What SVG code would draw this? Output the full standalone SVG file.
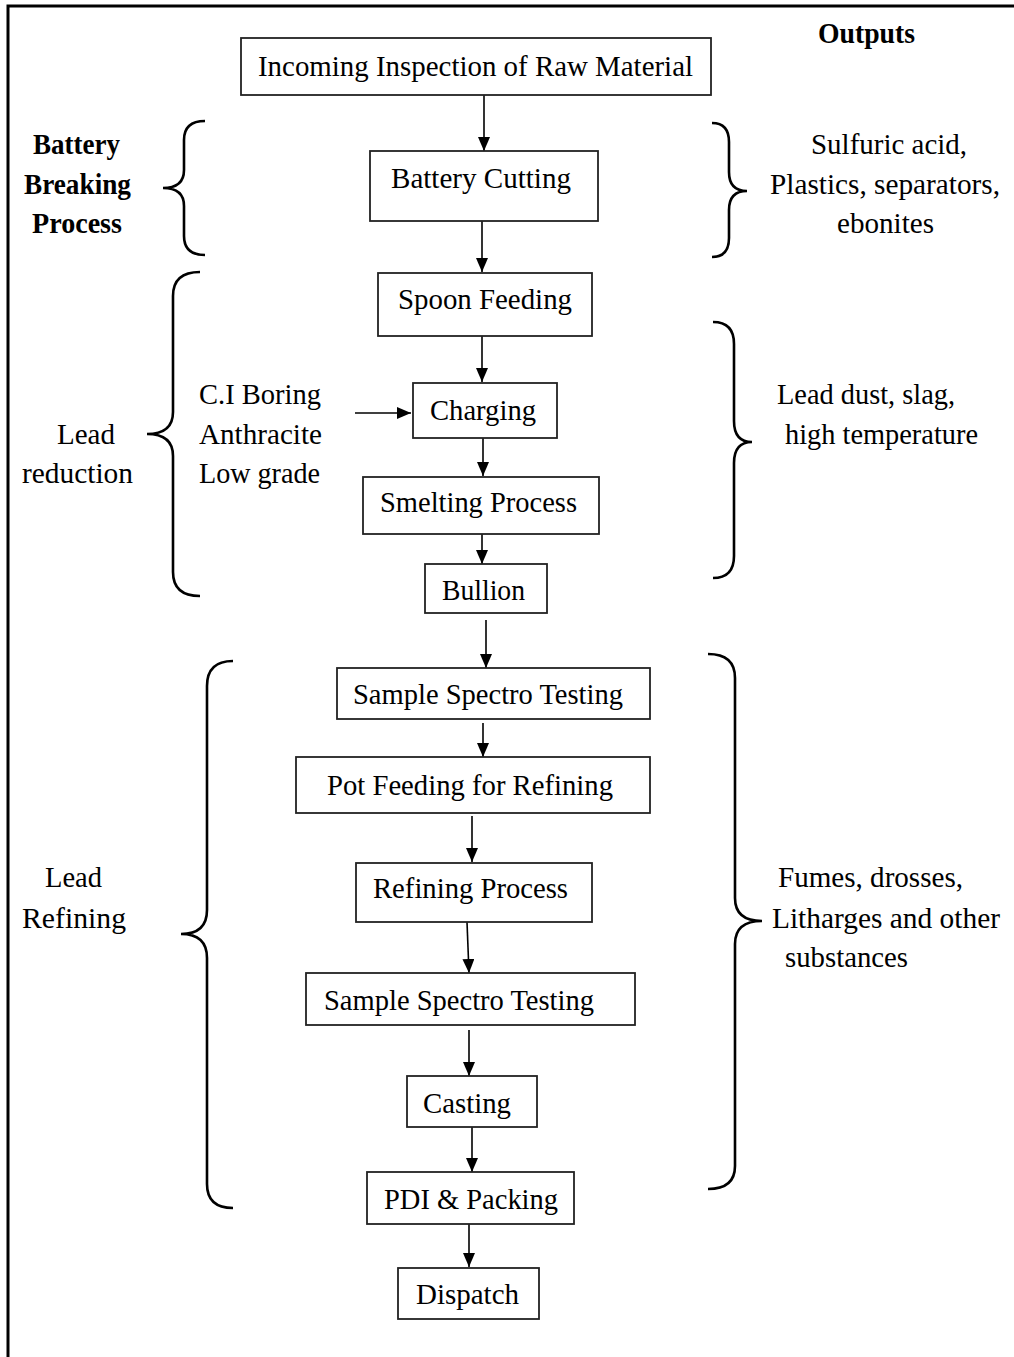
<svg xmlns="http://www.w3.org/2000/svg" width="1014" height="1357" viewBox="0 0 1014 1357">
<style>
.box{fill:#fff;stroke:#222;stroke-width:1.8}
.t{font-family:"Liberation Serif","Times New Roman",serif;font-size:30px;fill:#000}
.b{font-weight:bold;font-size:29px}
.c{stroke:#000;stroke-width:1.6;fill:none}
.br{stroke:#000;stroke-width:2.6;fill:none}
</style>
<defs>
<marker id="ah" markerWidth="14" markerHeight="12" refX="14" refY="6" orient="auto" markerUnits="userSpaceOnUse"><path d="M0,0 L14,6 L0,12 z" fill="#000"/></marker>
</defs>
<rect width="1014" height="1357" fill="#fff"/>
<path d="M8,1357 L8,6 L1014,6" fill="none" stroke="#000" stroke-width="3"/>

<g id="connectors">
<line class="c" x1="484" y1="95" x2="484" y2="151" marker-end="url(#ah)"/>
<line class="c" x1="482" y1="221" x2="482" y2="272" marker-end="url(#ah)"/>
<line class="c" x1="482" y1="336" x2="482" y2="382" marker-end="url(#ah)"/>
<line class="c" x1="355" y1="413" x2="411" y2="413" marker-end="url(#ah)"/>
<line class="c" x1="483" y1="438" x2="483" y2="476" marker-end="url(#ah)"/>
<line class="c" x1="482" y1="534" x2="482" y2="564" marker-end="url(#ah)"/>
<line class="c" x1="486" y1="620" x2="486" y2="668" marker-end="url(#ah)"/>
<line class="c" x1="483" y1="723" x2="483" y2="757" marker-end="url(#ah)"/>
<line class="c" x1="472" y1="816" x2="472" y2="862" marker-end="url(#ah)"/>
<line class="c" x1="467" y1="922" x2="469" y2="973" marker-end="url(#ah)"/>
<line class="c" x1="469" y1="1030" x2="469" y2="1076" marker-end="url(#ah)"/>
<line class="c" x1="472" y1="1127" x2="472" y2="1172" marker-end="url(#ah)"/>
<line class="c" x1="469" y1="1224" x2="469" y2="1267" marker-end="url(#ah)"/>
</g>

<g id="braces">
<path class="br" d="M205,121 Q184,121 184,140 L184,170 Q184,188 163,188 Q184,188 184,206 L184,236 Q184,255 205,255"/>
<path class="br" d="M200,272 Q173,272 173,296 L173,412 Q173,434 147,434 Q173,434 173,456 L173,572 Q173,596 200,596"/>
<path class="br" d="M233,661 Q207,661 207,686 L207,910 Q207,934 181,934 Q207,934 207,958 L207,1184 Q207,1208 233,1208"/>
<path class="br" d="M712,123 Q729,123 729,142 L729,172 Q729,191 747,191 Q729,191 729,210 L729,238 Q729,257 712,257"/>
<path class="br" d="M713,322 Q734,322 734,344 L734,421 Q734,442 752,442 Q734,442 734,463 L734,556 Q734,578 713,578"/>
<path class="br" d="M708,654 Q735,654 735,678 L735,898 Q735,921 762,921 Q735,921 735,944 L735,1166 Q735,1189 708,1189"/>
</g>

<g id="n-incoming"><rect class="box" x="241" y="38" width="470" height="57"/><text class="t" x="258" y="76" textLength="435" lengthAdjust="spacingAndGlyphs">Incoming Inspection of Raw Material</text></g>
<g id="n-cutting"><rect class="box" x="370" y="151" width="228" height="70"/><text class="t" x="391" y="188" textLength="180" lengthAdjust="spacingAndGlyphs">Battery Cutting</text></g>
<g id="n-spoon"><rect class="box" x="378" y="273" width="214" height="63"/><text class="t" x="398" y="309" textLength="174" lengthAdjust="spacingAndGlyphs">Spoon Feeding</text></g>
<g id="n-charging"><rect class="box" x="413" y="383" width="144" height="55"/><text class="t" x="430" y="420" textLength="106" lengthAdjust="spacingAndGlyphs">Charging</text></g>
<g id="n-smelting"><rect class="box" x="363" y="477" width="236" height="57"/><text class="t" x="380" y="512" textLength="197" lengthAdjust="spacingAndGlyphs">Smelting Process</text></g>
<g id="n-bullion"><rect class="box" x="425" y="564" width="122" height="49"/><text class="t" x="442" y="600" textLength="83" lengthAdjust="spacingAndGlyphs">Bullion</text></g>
<g id="n-sample1"><rect class="box" x="337" y="668" width="313" height="51"/><text class="t" x="353" y="704" textLength="270" lengthAdjust="spacingAndGlyphs">Sample Spectro Testing</text></g>
<g id="n-pot"><rect class="box" x="296" y="757" width="354" height="56"/><text class="t" x="327" y="795" textLength="286" lengthAdjust="spacingAndGlyphs">Pot Feeding for Refining</text></g>
<g id="n-refining"><rect class="box" x="356" y="863" width="236" height="59"/><text class="t" x="373" y="898" textLength="195" lengthAdjust="spacingAndGlyphs">Refining Process</text></g>
<g id="n-sample2"><rect class="box" x="306" y="973" width="329" height="52"/><text class="t" x="324" y="1010" textLength="270" lengthAdjust="spacingAndGlyphs">Sample Spectro Testing</text></g>
<g id="n-casting"><rect class="box" x="407" y="1076" width="130" height="51"/><text class="t" x="423" y="1113" textLength="88" lengthAdjust="spacingAndGlyphs">Casting</text></g>
<g id="n-pdi"><rect class="box" x="367" y="1172" width="207" height="52"/><text class="t" x="384" y="1209" textLength="174" lengthAdjust="spacingAndGlyphs">PDI &amp; Packing</text></g>
<g id="n-dispatch"><rect class="box" x="398" y="1268" width="141" height="51"/><text class="t" x="416" y="1304" textLength="103" lengthAdjust="spacingAndGlyphs">Dispatch</text></g>

<g id="labels">
<text class="t b" x="818" y="43" textLength="97" lengthAdjust="spacingAndGlyphs">Outputs</text>
<text class="t b" x="33" y="154" textLength="87" lengthAdjust="spacingAndGlyphs">Battery</text>
<text class="t b" x="24" y="194" textLength="107" lengthAdjust="spacingAndGlyphs">Breaking</text>
<text class="t b" x="32" y="233" textLength="90" lengthAdjust="spacingAndGlyphs">Process</text>
<text class="t" x="811" y="154" textLength="156" lengthAdjust="spacingAndGlyphs">Sulfuric acid,</text>
<text class="t" x="770" y="194" textLength="230" lengthAdjust="spacingAndGlyphs">Plastics, separators,</text>
<text class="t" x="837" y="233" textLength="97" lengthAdjust="spacingAndGlyphs">ebonites</text>
<text class="t" x="57" y="444" textLength="58" lengthAdjust="spacingAndGlyphs">Lead</text>
<text class="t" x="22" y="483" textLength="111" lengthAdjust="spacingAndGlyphs">reduction</text>
<text class="t" x="199" y="404" textLength="122" lengthAdjust="spacingAndGlyphs">C.I Boring</text>
<text class="t" x="199" y="444" textLength="123" lengthAdjust="spacingAndGlyphs">Anthracite</text>
<text class="t" x="199" y="483" textLength="121" lengthAdjust="spacingAndGlyphs">Low grade</text>
<text class="t" x="777" y="404" textLength="178" lengthAdjust="spacingAndGlyphs">Lead dust, slag,</text>
<text class="t" x="785" y="444" textLength="193" lengthAdjust="spacingAndGlyphs">high temperature</text>
<text class="t" x="45" y="887" textLength="57" lengthAdjust="spacingAndGlyphs">Lead</text>
<text class="t" x="22" y="928" textLength="104" lengthAdjust="spacingAndGlyphs">Refining</text>
<text class="t" x="778" y="887" textLength="185" lengthAdjust="spacingAndGlyphs">Fumes, drosses,</text>
<text class="t" x="772" y="928" textLength="228" lengthAdjust="spacingAndGlyphs">Litharges and other</text>
<text class="t" x="785" y="967" textLength="123" lengthAdjust="spacingAndGlyphs">substances</text>
</g>
</svg>
